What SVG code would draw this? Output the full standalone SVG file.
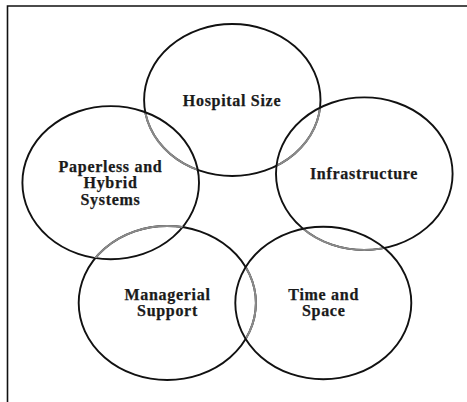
<svg xmlns="http://www.w3.org/2000/svg" width="467" height="402" viewBox="0 0 467 402">
  <style>
    .ring { fill: none; stroke: #111; stroke-width: 1.9; }
    .soft { fill: none; stroke: #8a8a8a; stroke-width: 2; }
    .lbl { font-family: "Liberation Serif", "Times New Roman", serif; font-weight: bold; font-size: 16px; letter-spacing: 0.7px; fill: #1a1a1a; stroke: #1a1a1a; stroke-width: 0.25px; text-anchor: middle; }
    .frame { stroke: #111; stroke-width: 1.6; fill: none; }
  </style>
  <defs>
    <clipPath id="clipHospital">
      <ellipse cx="110.7" cy="182.7" rx="88.3" ry="76.6"/>
      <ellipse cx="364.3" cy="173.7" rx="88.3" ry="76.3"/>
    </clipPath>
    <clipPath id="clipInfra">
      <ellipse cx="323.3" cy="303" rx="88" ry="76.3"/>
    </clipPath>
    <clipPath id="clipManager">
      <ellipse cx="110.7" cy="182.7" rx="88.3" ry="76.6"/>
      <ellipse cx="323.3" cy="303" rx="88" ry="76.3"/>
    </clipPath>
  </defs>
  <rect width="467" height="402" fill="#ffffff"/>
  <g id="frame">
    <path class="frame" d="M7.5 6 L467 6 M7.5 5.2 L7.5 402"/>
  </g>
  <g id="connectors"></g>
  <g id="hospital-size">
    <ellipse class="ring" cx="232.3" cy="100" rx="88.2" ry="76"/>
    <ellipse class="soft" cx="232.3" cy="100" rx="88.2" ry="76" clip-path="url(#clipHospital)"/>
    <text class="lbl" x="232" y="106">Hospital Size</text>
  </g>
  <g id="paperless">
    <ellipse class="ring" cx="110.7" cy="182.7" rx="88.3" ry="76.6"/>
    <text class="lbl" x="110.5" y="171.7">Paperless and</text>
    <text class="lbl" x="110.5" y="188.2">Hybrid</text>
    <text class="lbl" x="110.5" y="204.5">Systems</text>
  </g>
  <g id="infrastructure">
    <ellipse class="ring" cx="364.3" cy="173.7" rx="88.3" ry="76.3"/>
    <ellipse class="soft" cx="364.3" cy="173.7" rx="88.3" ry="76.3" clip-path="url(#clipInfra)"/>
    <text class="lbl" x="364" y="179.3">Infrastructure</text>
  </g>
  <g id="managerial-support">
    <ellipse class="ring" cx="167.3" cy="303" rx="88.6" ry="77"/>
    <ellipse class="soft" cx="167.3" cy="303" rx="88.6" ry="77" clip-path="url(#clipManager)"/>
    <text class="lbl" x="167.5" y="300">Managerial</text>
    <text class="lbl" x="167.5" y="316">Support</text>
  </g>
  <g id="time-space">
    <ellipse class="ring" cx="323.3" cy="303" rx="88" ry="76.3"/>
    <text class="lbl" x="323.7" y="300">Time and</text>
    <text class="lbl" x="323.7" y="316">Space</text>
  </g>
</svg>
